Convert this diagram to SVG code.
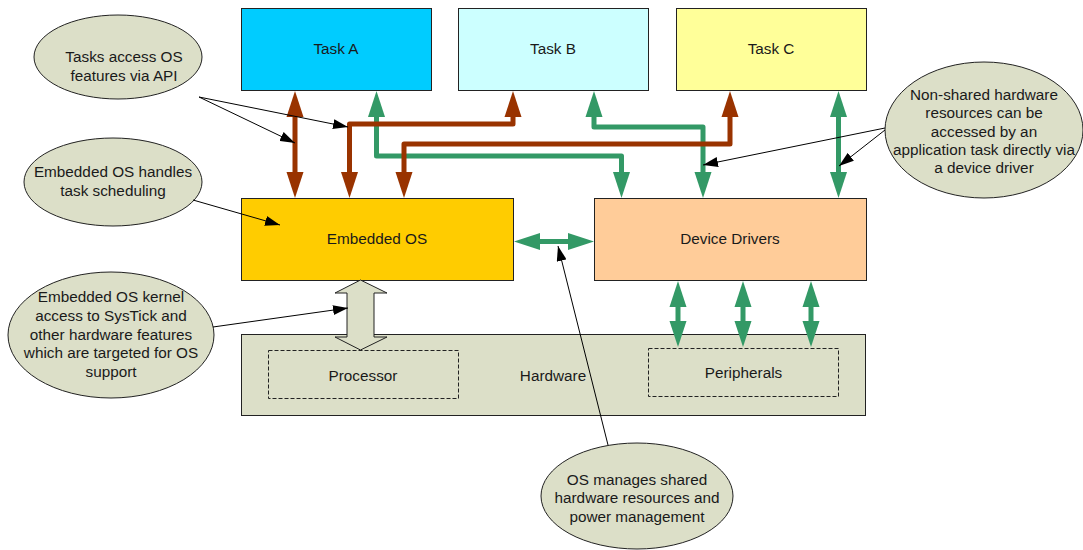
<svg xmlns="http://www.w3.org/2000/svg" width="1083" height="550" viewBox="0 0 1083 550">
<style>
.box{stroke:#222;stroke-width:1}
.ell{fill:#DCDFC8;stroke:#222;stroke-width:1}
.dash{fill:none;stroke:#222;stroke-width:1;stroke-dasharray:4,2}
text{font-family:"Liberation Sans",Arial,sans-serif;font-size:15.3px;fill:#1a1a1a;text-anchor:middle}
.br{fill:none;stroke:#993300;stroke-width:5;stroke-linejoin:round;marker-start:url(#hb);marker-end:url(#hb)}
.gr{fill:none;stroke:#339966;stroke-width:5;stroke-linejoin:round;marker-start:url(#hg);marker-end:url(#hg)}
.co{fill:none;stroke:#000;stroke-width:1;marker-end:url(#ha)}
</style>
<defs>
<marker id="hb" markerUnits="userSpaceOnUse" markerWidth="26" markerHeight="18" refX="6" refY="9" orient="auto-start-reverse" viewBox="0 0 26 18"><path d="M0,0.5 L26,9 L0,17.5 z" fill="#993300"/></marker>
<marker id="hg" markerUnits="userSpaceOnUse" markerWidth="26" markerHeight="18" refX="6" refY="9" orient="auto-start-reverse" viewBox="0 0 26 18"><path d="M0,0.5 L26,9 L0,17.5 z" fill="#339966"/></marker>
<marker id="ha" markerUnits="userSpaceOnUse" markerWidth="15" markerHeight="10" refX="15" refY="5" orient="auto" viewBox="0 0 15 10"><path d="M0,0 L15,5 L0,10 z" fill="#000"/></marker>
</defs>

<g id="hardware">
<rect class="box" x="241.5" y="334.5" width="624" height="81" fill="#DCDFC8"/>
<text x="553" y="381">Hardware</text>
</g>
<g id="processor">
<rect class="dash" x="268.5" y="350.5" width="190" height="48"/>
<text x="363" y="381">Processor</text>
</g>
<g id="peripherals">
<rect class="dash" x="648.5" y="348.5" width="190" height="48"/>
<text x="743.5" y="378">Peripherals</text>
</g>
<g id="taskA">
<rect class="box" x="241.5" y="8.5" width="190" height="82" fill="#00CCFF"/>
<text x="336" y="54">Task A</text>
</g>
<g id="taskB">
<rect class="box" x="458.5" y="8.5" width="190" height="82" fill="#CCFFFF"/>
<text x="553" y="54">Task B</text>
</g>
<g id="taskC">
<rect class="box" x="676.5" y="8.5" width="190" height="82" fill="#FFFF99"/>
<text x="771" y="54">Task C</text>
</g>
<g id="embeddedOS">
<rect class="box" x="241.5" y="198.5" width="272" height="82" fill="#FFCC00"/>
<text x="377" y="244">Embedded OS</text>
</g>
<g id="deviceDrivers">
<rect class="box" x="594.5" y="198.5" width="272" height="82" fill="#FFCC99"/>
<text x="730" y="244">Device Drivers</text>
</g>

<g id="note1">
<ellipse class="ell" cx="118" cy="57" rx="84" ry="42"/>
<text x="124" y="62">Tasks access OS</text>
<text x="124" y="81">features via API</text>
</g>
<g id="note2">
<ellipse class="ell" cx="113" cy="182" rx="89" ry="44"/>
<text x="113" y="177">Embedded OS handles</text>
<text x="113" y="196">task scheduling</text>
</g>
<g id="note3">
<ellipse class="ell" cx="111" cy="335" rx="103" ry="63"/>
<text x="111" y="302">Embedded OS kernel</text>
<text x="111" y="321">access to SysTick and</text>
<text x="111" y="340">other hardware features</text>
<text x="111" y="358">which are targeted for OS</text>
<text x="111" y="377">support</text>
</g>
<g id="note4">
<ellipse class="ell" cx="984" cy="130" rx="99" ry="68"/>
<text x="984" y="100">Non-shared hardware</text>
<text x="984" y="118">resources can be</text>
<text x="984" y="137">accessed by an</text>
<text x="984" y="155">application task directly via</text>
<text x="984" y="173">a device driver</text>
</g>
<g id="note5">
<ellipse class="ell" cx="637" cy="496" rx="96" ry="53"/>
<text x="637" y="485">OS manages shared</text>
<text x="637" y="503">hardware resources and</text>
<text x="637" y="522">power management</text>
</g>

<g id="connectors">
<path class="gr" d="M376.5,111 L376.5,156 L621.5,156 L621.5,178"/>
<path class="gr" d="M594,111 L594,127 L703,127 L703,178"/>
<path class="gr" d="M838.5,111 L838.5,178"/>
<path class="gr" d="M534,241.5 L574,241.5"/>
<path class="gr" d="M678,301 L678,327"/>
<path class="gr" d="M743,301 L743,327"/>
<path class="gr" d="M811,301 L811,327"/>
<path class="br" d="M295,111 L295,178"/>
<path class="br" d="M349.5,178 L349.5,124 L513,124 L513,111"/>
<path class="br" d="M404,178 L404,144 L730,144 L730,111"/>
<path d="M360.5,280 L387,293 L374,293 L374,337 L387,337 L360.5,350 L335,337 L347,337 L347,293 L335,293 z" fill="#DCDFC8" stroke="#222" stroke-width="1"/>
<path class="co" d="M199,97 L295,143"/>
<path class="co" d="M199,97 L348,127"/>
<path class="co" d="M193,200 L280,225"/>
<path class="co" d="M213,327 L348,308"/>
<path class="co" d="M885,128 L703,165"/>
<path class="co" d="M885,130 L839,166"/>
<path class="co" d="M608,445 L558,246"/>
</g>
</svg>
